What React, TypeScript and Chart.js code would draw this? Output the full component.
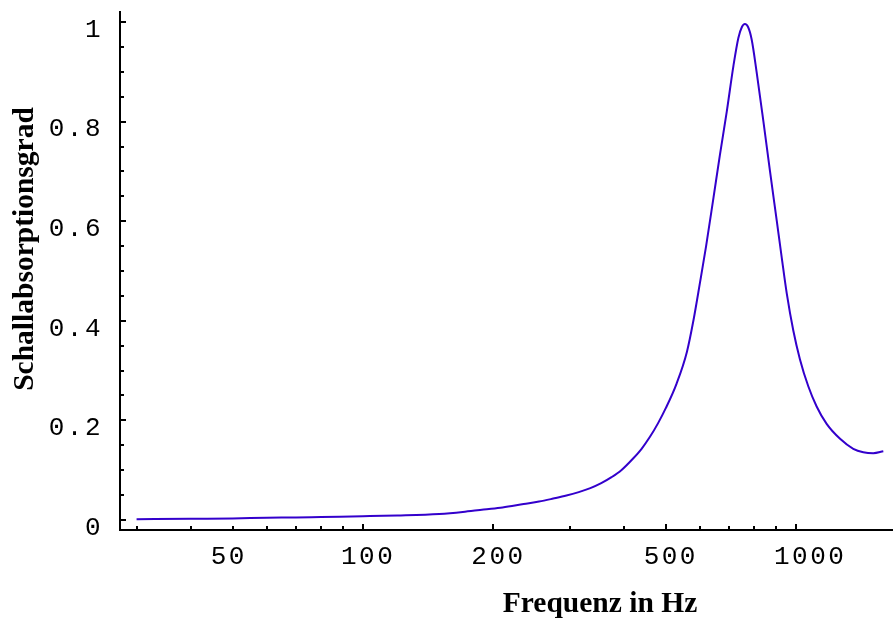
import React, { useEffect, useRef } from "react";
import { Chart, registerables } from "chart.js";

Chart.register(...registerables);

// ---- data ----
const frequencies = [
  30, 40, 50, 60, 70, 80, 100, 120, 150, 170, 190, 210, 235, 255, 275, 295, 315, 335, 355, 375,
  395, 420, 440, 460, 480, 500, 530, 560, 580, 600, 620, 645, 667, 692, 717, 736, 750, 762, 775,
  790, 811, 841, 871, 903, 927, 952, 986, 1021, 1068, 1116, 1177, 1264, 1356, 1430, 1508, 1591,
];
const absorption = [
  0.0015, 0.0025, 0.003, 0.0045, 0.005, 0.006, 0.0075, 0.009, 0.012, 0.016, 0.021, 0.025, 0.032,
  0.037, 0.043, 0.049, 0.056, 0.064, 0.074, 0.086, 0.1, 0.123, 0.143, 0.167, 0.194, 0.224, 0.274,
  0.338, 0.402, 0.476, 0.55, 0.648, 0.732, 0.82, 0.912, 0.968, 0.99, 0.996, 0.99, 0.965, 0.9,
  0.8, 0.7, 0.6, 0.527, 0.455, 0.38, 0.323, 0.268, 0.228, 0.193, 0.163, 0.143, 0.136, 0.134,
  0.138,
];

const xLabelTicks = [50, 100, 200, 500, 1000];
const xMajorMarks = [100, 200, 500, 1000];
const xMinorMarks = [30, 40, 50, 60, 70, 80, 90, 300, 400, 600, 700, 800, 900];
const yLabelTicks = [0, 0.2, 0.4, 0.6, 0.8, 1];
const yMinorMarks = [0.05, 0.1, 0.15, 0.25, 0.3, 0.35, 0.45, 0.5, 0.55, 0.65, 0.7, 0.75, 0.85, 0.9, 0.95];

const xTitle = "Frequenz in Hz";
const yTitle = "Schallabsorptionsgrad";

const LINE_COLOR = "#3300cc";
const TICK_FONT = "Liberation Mono";
const TITLE_FONT = "bold 29.5px 'Liberation Serif'";

const marksPlugin = {
  id: "marksPlugin",
  beforeDraw(chart: any) {
    chart.ctx.letterSpacing = "2.5px";
  },
  afterDraw(chart: any) {
    const { ctx, chartArea, scales } = chart;
    const x = scales.x;
    const y = scales.y;
    ctx.save();
    ctx.letterSpacing = "0px";
    ctx.fillStyle = "#000";
    const bottom = Math.round(chartArea.bottom);
    const left = Math.round(chartArea.left);
    const drawX = (v: number, len: number) => {
      const px = Math.round(x.getPixelForValue(v));
      ctx.fillRect(px - 1, bottom - len, 2, len);
    };
    const drawY = (v: number, len: number) => {
      const py = Math.round(y.getPixelForValue(v));
      ctx.fillRect(left, py - 1, len, 2);
    };
    xMajorMarks.forEach((v) => drawX(v, 6));
    xMinorMarks.forEach((v) => drawX(v, 4));
    yLabelTicks.forEach((v) => drawY(v, 6));
    yMinorMarks.forEach((v) => drawY(v, 4));

    // axis titles
    ctx.font = TITLE_FONT;
    ctx.textBaseline = "alphabetic";
    ctx.textAlign = "center";
    ctx.fillText(xTitle, 600, 612);
    ctx.translate(33, 249);
    ctx.rotate(-Math.PI / 2);
    ctx.fillText(yTitle, 0, 0);
    ctx.restore();
    ctx.letterSpacing = "0px";
  },
};

export default function App() {
  const canvasRef = useRef<HTMLCanvasElement | null>(null);

  useEffect(() => {
    document.body.style.margin = "0";
    const canvas = canvasRef.current;
    if (!canvas) return;
    const points = frequencies.map((f, i) => ({ x: f, y: absorption[i] }));
    const chart = new Chart(canvas, {
      type: "line",
      data: {
        datasets: [
          {
            data: points,
            borderColor: LINE_COLOR,
            borderWidth: 2,
            pointRadius: 0,
            fill: false,
            cubicInterpolationMode: "monotone",
          },
        ],
      },
      options: {
        animation: false,
        responsive: false,
        maintainAspectRatio: false,
        devicePixelRatio: 1,
        layout: { padding: { top: 12, right: 0, left: 0, bottom: 0 } },
        plugins: {
          legend: { display: false },
          tooltip: { enabled: false },
          title: { display: false },
        },
        scales: {
          x: {
            type: "logarithmic",
            min: 27.47,
            max: 1675,
            grid: { display: false, drawTicks: false },
            border: { display: true, color: "#000", width: 2 },
            afterBuildTicks: (scale: any) => {
              scale.ticks = xLabelTicks.map((v) => ({ value: v }));
            },
            afterFit: (scale: any) => {
              scale.height = 91;
              scale.paddingLeft = 0;
              scale.paddingRight = 0;
            },
            ticks: {
              autoSkip: false,
              maxRotation: 0,
              minRotation: 0,
              align: "start",
              labelOffset: -22,
              padding: 12,
              color: "#000",
              font: { family: TICK_FONT, size: 26 },
              callback: (value: any) => String(value),
            },
          },
          y: {
            type: "linear",
            min: -0.0201,
            max: 1.0201,
            grid: { display: false, drawTicks: false },
            border: { display: true, color: "#000", width: 2 },
            afterBuildTicks: (scale: any) => {
              scale.ticks = yLabelTicks.map((v) => ({ value: v }));
            },
            afterFit: (scale: any) => {
              scale.width = 120;
              scale.paddingTop = 0;
              scale.paddingBottom = 0;
            },
            ticks: {
              autoSkip: false,
              padding: 17,
              labelOffset: 8,
              color: "#000",
              font: { family: TICK_FONT, size: 26 },
              callback: (value: any) => String(Math.round(Number(value) * 10) / 10),
            },
          },
        },
      },
      plugins: [marksPlugin],
    });
    return () => chart.destroy();
  }, []);

  return (
    <div style={{ position: "absolute", left: 0, top: 0, width: 893, height: 621, background: "#fff" }}>
      <canvas ref={canvasRef} width={893} height={621} style={{ display: "block" }} />
    </div>
  );
}
